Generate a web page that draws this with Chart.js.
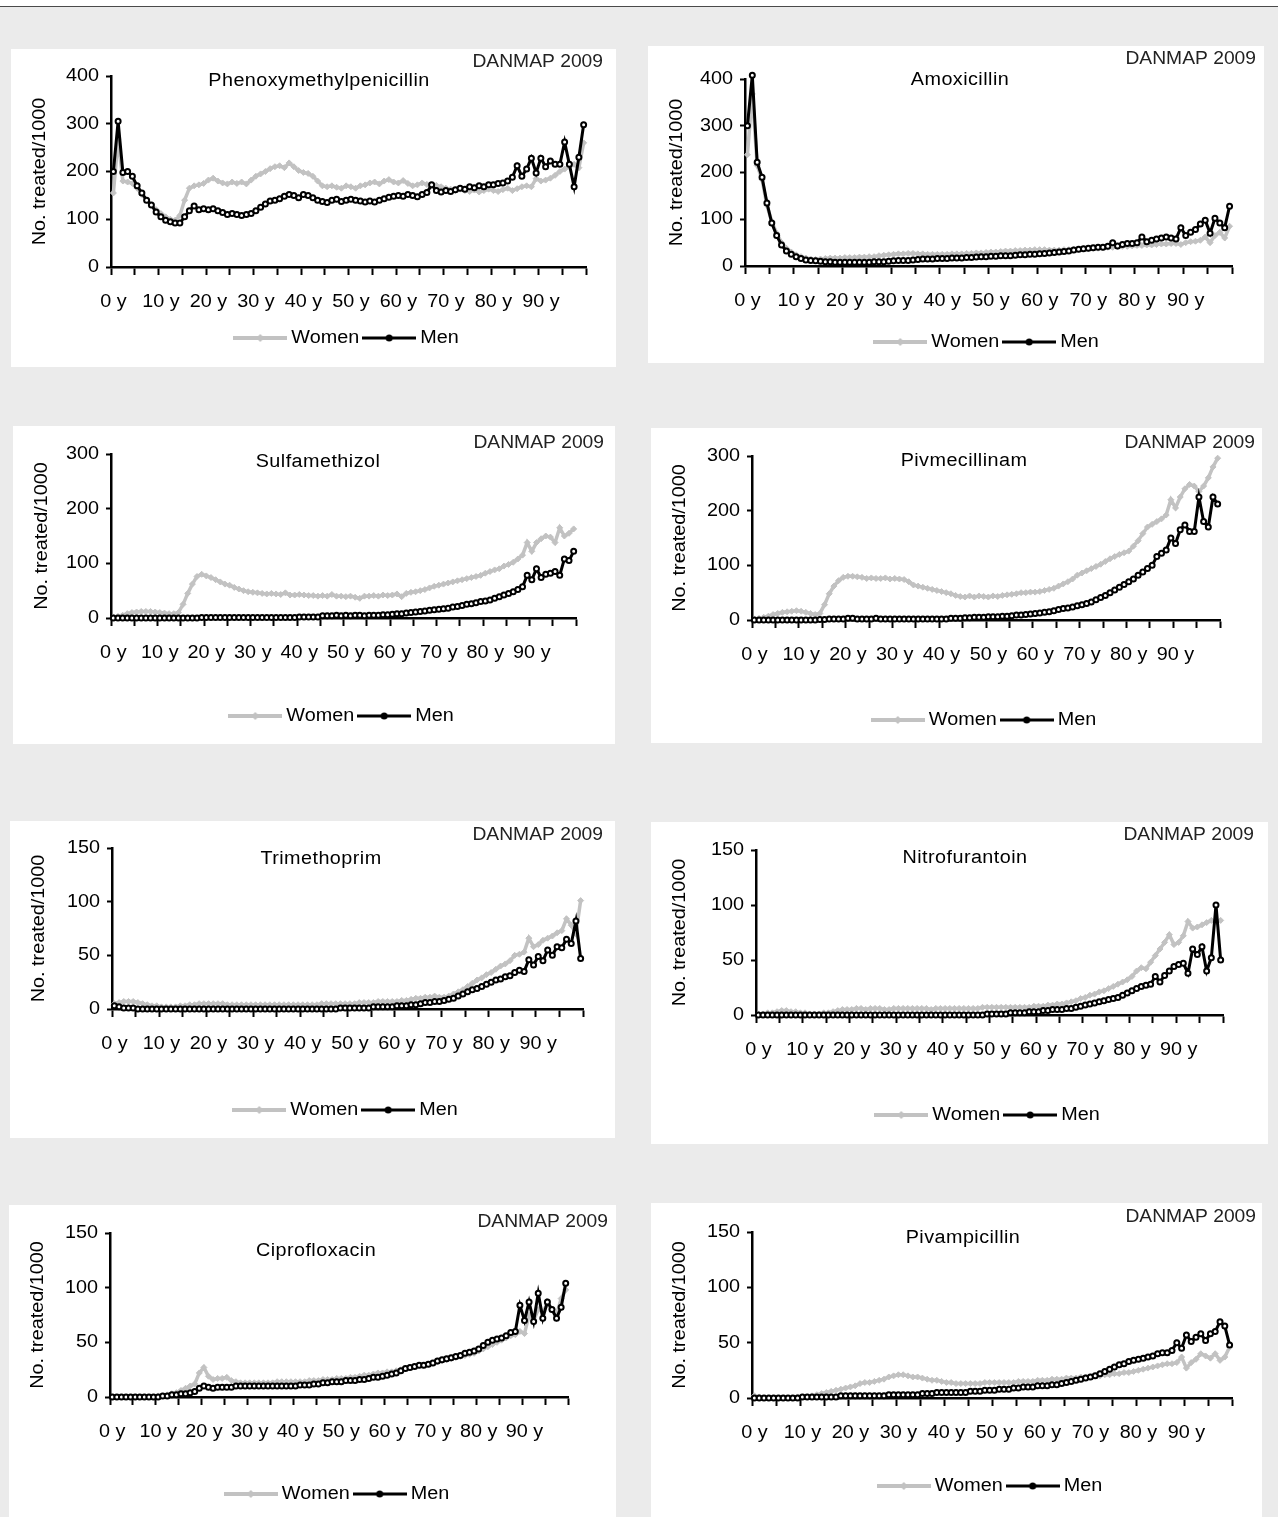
<!DOCTYPE html>
<html>
<head>
<meta charset="utf-8">
<title>DANMAP 2009 - treated per 1000 by age</title>
<script src="https://cdn.jsdelivr.net/npm/chart.js@4.4.1/dist/chart.umd.min.js"></script>
<style>
  html, body { margin: 0; padding: 0; }
  body { width: 1278px; height: 1517px; overflow: hidden; background: #ebebeb; position: relative; }
  #top { position: absolute; left: 0; top: 0; width: 1278px; height: 6px; background: #fff; border-bottom: 1px solid #4a4a4a; }
  .panel { position: absolute; background: #fff; overflow: hidden; }
  .panel canvas { display: block; }
</style>
</head>
<body>
<div id="top"></div>
<script>
// categories: age in years, one point per year
const ages = Array.from({ length: 100 }, (_, i) => i);
const tickLabels = ['0 y', '10 y', '20 y', '30 y', '40 y', '50 y', '60 y', '70 y', '80 y', '90 y'];
const seriesNames = ['Women', 'Men'];
const drugNames = ['Phenoxymethylpenicillin', 'Amoxicillin', 'Sulfamethizol', 'Pivmecillinam',
                   'Trimethoprim', 'Nitrofurantoin', 'Ciprofloxacin', 'Pivampicillin'];
const yMax = [400, 400, 300, 300, 150, 150, 150, 150];
const yStep = [100, 100, 100, 100, 50, 50, 50, 50];
const axisTitle = 'No. treated/1000';
const stamp = 'DANMAP 2009';

// No. treated/1000, ages 0..99
const phenoWomen = [155, 268, 180, 178, 175, 165, 152, 140, 130, 120,
  112, 105, 100, 98, 108, 140, 165, 170, 172, 175,
  182, 186, 180, 176, 174, 178, 175, 178, 174, 182,
  190, 195, 200, 206, 210, 212, 208, 218, 210, 202,
  198, 196, 190, 180, 170, 168, 170, 167, 165, 170,
  168, 165, 170, 172, 176, 178, 174, 180, 183, 178,
  176, 181, 175, 170, 172, 176, 173, 170, 171, 168,
  165, 163, 160, 163, 160, 158, 161, 157, 160, 163,
  160, 158, 162, 165, 160, 164, 168, 170, 168, 185,
  180, 182, 186, 192, 200, 205, 210, 215, 208, 260];
const phenoMen = [200, 305, 198, 200, 190, 170, 155, 140, 130, 115,
  105, 98, 95, 92, 92, 105, 118, 128, 120, 122,
  120, 122, 118, 114, 110, 112, 110, 108, 110, 112,
  118, 125, 132, 138, 140, 143, 148, 152, 150, 145,
  152, 150, 145, 140, 137, 135, 140, 142, 137, 140,
  142, 140, 138, 136, 138, 136, 140, 143, 146, 148,
  150, 148, 152, 150, 147, 152, 156, 172, 160, 157,
  160, 158, 162, 165, 163, 168, 166, 170, 168, 172,
  172, 175, 176, 180, 188, 212, 190, 205, 228, 197,
  228, 210, 222, 215, 215, 262, 215, 168, 230, 298];

const amoxWomen = [238, 368, 215, 185, 130, 95, 70, 50, 38, 30,
  24, 20, 17, 15, 14, 15, 16, 17, 17, 17,
  18, 18, 18, 19, 19, 20, 20, 22, 23, 24,
  25, 26, 26, 27, 27, 26, 26, 25, 25, 25,
  25, 25, 26, 26, 26, 27, 27, 28, 28, 29,
  30, 30, 31, 32, 32, 33, 33, 34, 34, 35,
  35, 35, 34, 34, 34, 35, 35, 36, 36, 37,
  37, 38, 38, 39, 40, 40, 41, 42, 42, 43,
  44, 44, 45, 45, 46, 47, 47, 48, 48, 46,
  50, 52, 53, 55, 62, 50, 65, 72, 60, 85];
const amoxMen = [300, 408, 222, 190, 135, 92, 65, 45, 32, 25,
  20, 16, 13, 12, 11, 10, 9, 9, 8, 8,
  8, 8, 8, 8, 8, 8, 9, 9, 9, 10,
  11, 12, 12, 12, 13, 14, 15, 15, 15, 16,
  16, 16, 17, 17, 17, 18, 18, 19, 20, 20,
  21, 21, 22, 22, 22, 23, 24, 24, 25, 25,
  26, 27, 28, 29, 30, 31, 32, 34, 36, 37,
  38, 39, 40, 40, 42, 50, 43, 46, 48, 48,
  50, 62, 52, 55, 58, 60, 62, 60, 58, 82,
  65, 72, 78, 90, 98, 70, 102, 92, 82, 128];

const sulfaWomen = [2, 3, 5, 8, 10, 11, 12, 12, 12, 11,
  10, 9, 8, 8, 10, 25, 45, 62, 76, 80,
  77, 74, 70, 66, 62, 60, 56, 53, 50, 48,
  47, 46, 45, 44, 45, 44, 43, 46, 42, 42,
  43, 42, 41, 41, 40, 41, 40, 43, 40, 40,
  39, 40, 38, 36, 40, 40, 41, 40, 42, 41,
  42, 44, 39, 45, 47, 48, 50, 52, 55, 58,
  60, 62, 64, 66, 68, 70, 72, 74, 76, 78,
  82, 85, 88, 90, 95, 98, 102, 108, 115, 138,
  122, 138, 145, 150, 148, 138, 165, 150, 155, 163];
const sulfaMen = [0, 0, 0, 0, 0, 0, 0, 0, 0, 0,
  0, 0, 0, 0, 0, 0, 0, 0, 0, 1,
  1, 1, 1, 1, 1, 1, 1, 1, 1, 1,
  1, 1, 1, 1, 1, 1, 1, 1, 1, 1,
  2, 2, 2, 2, 2, 4, 4, 4, 5, 4,
  5, 4, 5, 5, 4, 5, 5, 5, 6, 6,
  7, 8, 8, 9, 10, 11, 12, 13, 14, 15,
  16, 17, 18, 20, 21, 23, 25, 26, 28, 30,
  31, 33, 36, 39, 42, 45, 48, 52, 57, 78,
  70, 90, 74, 80, 82, 85, 78, 108, 105, 122];

const pivmeWomen = [2, 3, 5, 7, 10, 12, 14, 15, 16, 17,
  16, 14, 12, 10, 12, 28, 48, 62, 72, 78,
  80, 80, 79, 78, 76, 77, 76, 76, 77, 75,
  76, 75, 74, 70, 64, 62, 60, 58, 56, 54,
  52, 50, 48, 45, 43, 42, 44, 42, 44, 43,
  42, 44, 43, 45, 46, 47, 48, 50, 50, 51,
  51, 52, 54, 56, 58, 62, 66, 70, 75, 82,
  86, 90, 94, 98, 102, 107, 112, 116, 120, 123,
  126, 135, 145, 158, 170, 175, 180, 185, 192, 220,
  205, 225, 240, 248, 245, 235, 245, 260, 280, 296];
const pivmeMen = [0, 0, 0, 0, 0, 0, 0, 0, 0, 0,
  0, 0, 0, 0, 1, 1, 2, 2, 2, 2,
  3, 3, 2, 2, 2, 2, 3, 2, 2, 2,
  2, 2, 2, 2, 2, 2, 2, 2, 2, 2,
  2, 2, 3, 3, 3, 4, 4, 5, 5, 5,
  6, 6, 6, 7, 7, 8, 9, 9, 10, 11,
  12, 13, 14, 15, 17, 19, 21, 22, 24, 26,
  28, 30, 33, 37, 41, 45, 50, 55, 60, 65,
  70, 75, 82, 88, 94, 100, 116, 122, 128, 150,
  140, 165, 174, 162, 162, 225, 180, 170, 225, 212];

const trimWomen = [5, 6, 7, 7, 7, 6, 5, 4, 3, 3,
  2, 2, 2, 2, 3, 3, 4, 4, 5, 5,
  5, 5, 5, 5, 4, 4, 4, 4, 4, 4,
  4, 4, 4, 4, 4, 4, 4, 4, 4, 4,
  4, 4, 4, 4, 5, 5, 5, 5, 5, 5,
  5, 5, 6, 6, 6, 6, 7, 7, 7, 7,
  7, 8, 8, 9, 10, 10, 11, 11, 12, 11,
  11, 12, 14, 16, 18, 21, 24, 27, 29, 32,
  34, 37, 40, 42, 45, 50, 51, 53, 66, 58,
  60, 64, 66, 68, 71, 73, 84, 78, 70, 101];
const trimMen = [3, 2, 1, 1, 1, 0, 0, 0, 0, 0,
  0, 0, 0, 0, 0, 0, 0, 0, 0, 0,
  0, 0, 0, 0, 0, 0, 0, 0, 0, 0,
  0, 0, 0, 0, 0, 0, 0, 0, 0, 0,
  0, 0, 0, 0, 0, 0, 0, 0, 1, 1,
  1, 1, 1, 1, 1, 2, 2, 2, 2, 2,
  3, 3, 3, 4, 4, 5, 6, 6, 7, 7,
  8, 9, 10, 12, 14, 16, 18, 19, 21, 23,
  25, 27, 28, 30, 31, 34, 36, 35, 46, 41,
  49, 45, 55, 50, 58, 57, 65, 61, 82, 47];

const nitroWomen = [1, 1, 2, 2, 3, 4, 4, 3, 3, 2,
  2, 1, 1, 1, 2, 2, 3, 4, 5, 5,
  5, 6, 6, 5, 6, 6, 6, 5, 5, 6,
  6, 6, 6, 6, 6, 6, 6, 5, 6, 6,
  6, 6, 6, 6, 6, 6, 6, 6, 7, 7,
  7, 7, 7, 7, 7, 7, 7, 7, 7, 8,
  8, 8, 9, 9, 10, 10, 11, 12, 13, 15,
  16, 18, 19, 21, 22, 24, 26, 28, 30, 32,
  35, 40, 43, 42, 48, 54, 60, 66, 73, 64,
  66, 72, 85, 79, 80, 82, 84, 86, 85, 86];
const nitroMen = [0, 0, 0, 0, 0, 0, 0, 0, 0, 0,
  0, 0, 0, 0, 0, 0, 0, 0, 0, 0,
  0, 0, 0, 0, 0, 0, 0, 0, 0, 0,
  0, 0, 0, 0, 0, 0, 0, 0, 0, 0,
  0, 0, 0, 0, 0, 0, 0, 0, 0, 1,
  1, 1, 1, 1, 2, 2, 2, 2, 3, 3,
  3, 4, 4, 5, 5, 5, 6, 6, 7, 8,
  9, 10, 11, 12, 13, 14, 15, 16, 18, 20,
  22, 24, 26, 27, 28, 35, 30, 36, 40, 44,
  46, 47, 38, 60, 55, 62, 40, 52, 100, 50];

const ciproWomen = [0, 0, 0, 0, 0, 0, 0, 0, 0, 0,
  1, 1, 2, 3, 4, 6, 8, 10, 12, 22,
  27, 19, 16, 17, 17, 18, 15, 14, 13, 13,
  13, 13, 13, 13, 13, 13, 14, 14, 14, 14,
  14, 14, 14, 15, 15, 15, 16, 16, 16, 17,
  17, 17, 18, 18, 19, 20, 20, 21, 22, 22,
  23, 23, 24, 25, 26, 27, 28, 29, 29, 30,
  31, 32, 33, 34, 35, 36, 37, 38, 39, 40,
  42, 44, 46, 48, 50, 52, 54, 56, 57, 60,
  58, 75, 70, 80, 78, 85, 80, 75, 90, 98];
const ciproMen = [0, 0, 0, 0, 0, 0, 0, 0, 0, 0,
  0, 1, 1, 2, 2, 3, 3, 4, 5, 8,
  10, 9, 8, 9, 9, 9, 9, 10, 10, 10,
  10, 10, 10, 10, 10, 10, 10, 10, 10, 10,
  10, 11, 11, 11, 12, 12, 13, 13, 14, 14,
  14, 15, 15, 15, 16, 16, 17, 18, 18, 19,
  20, 21, 22, 24, 26, 27, 28, 29, 29, 30,
  31, 33, 34, 35, 36, 37, 38, 40, 41, 42,
  44, 47, 50, 52, 53, 54, 56, 59, 60, 84,
  70, 87, 69, 95, 72, 87, 80, 72, 82, 104];

const pivaWomen = [2, 1, 0, 0, 0, 0, 0, 0, 0, 1,
  1, 1, 2, 3, 4, 5, 6, 7, 8, 9,
  10, 11, 13, 14, 14, 15, 16, 17, 19, 20,
  21, 21, 20, 19, 19, 18, 17, 16, 16, 15,
  14, 14, 13, 13, 13, 13, 13, 13, 14, 14,
  14, 14, 14, 14, 14, 15, 15, 15, 15, 16,
  16, 16, 17, 17, 17, 18, 18, 18, 19, 19,
  19, 20, 20, 21, 21, 22, 22, 23, 23, 24,
  25, 26, 27, 28, 29, 30, 31, 31, 32, 37,
  27, 32, 35, 40, 38, 36, 40, 34, 37, 46];
const pivaMen = [0, 0, 0, 0, 0, 0, 0, 0, 0, 0,
  1, 1, 1, 1, 1, 1, 1, 1, 2, 2,
  2, 2, 2, 2, 2, 2, 2, 2, 3, 3,
  3, 3, 3, 3, 3, 4, 4, 4, 5, 5,
  5, 5, 5, 5, 5, 6, 6, 6, 7, 7,
  7, 8, 8, 8, 9, 9, 10, 10, 10, 11,
  11, 11, 12, 12, 13, 14, 15, 16, 17, 18,
  19, 20, 22, 24, 26, 28, 30, 31, 33, 34,
  35, 36, 37, 38, 40, 41, 41, 43, 50, 45,
  57, 51, 55, 58, 52, 58, 60, 69, 65, 48];

const womenSeries = [phenoWomen, amoxWomen, sulfaWomen, pivmeWomen, trimWomen, nitroWomen, ciproWomen, pivaWomen];
const menSeries = [phenoMen, amoxMen, sulfaMen, pivmeMen, trimMen, nitroMen, ciproMen, pivaMen];

// panel boxes on the page and the plot edges inside each box (px)
const panels = [
  { left: 11, top: 49, w: 605, h: 318, axisL: 100, axisR: 575, axisT: 27, axisB: 218, legendY: 289, titleX: 308, titleY: 32, stampR: 592, stampY: 13 },
  { left: 648, top: 46, w: 616, h: 317, axisL: 97, axisR: 584, axisT: 33, axisB: 220, legendY: 296, titleX: 312, titleY: 34, stampR: 608, stampY: 13 },
  { left: 13, top: 426, w: 602, h: 318, axisL: 98, axisR: 563, axisT: 28, axisB: 192, legendY: 290, titleX: 305, titleY: 36, stampR: 591, stampY: 17 },
  { left: 651, top: 428, w: 611, h: 315, axisL: 101, axisR: 569, axisT: 28, axisB: 192, legendY: 292, titleX: 313, titleY: 33, stampR: 604, stampY: 15 },
  { left: 10, top: 821, w: 605, h: 317, axisL: 102, axisR: 573, axisT: 27, axisB: 188, legendY: 289, titleX: 311, titleY: 38, stampR: 593, stampY: 14 },
  { left: 651, top: 822, w: 617, h: 322, axisL: 105, axisR: 572, axisT: 28, axisB: 193, legendY: 293, titleX: 314, titleY: 36, stampR: 603, stampY: 13 },
  { left: 9, top: 1205, w: 607, h: 318, axisL: 101, axisR: 559, axisT: 28, axisB: 192, legendY: 289, titleX: 307, titleY: 46, stampR: 599, stampY: 17 },
  { left: 651, top: 1203, w: 611, h: 318, axisL: 101, axisR: 581, axisT: 29, axisB: 195, legendY: 283, titleX: 312, titleY: 35, stampR: 605, stampY: 14 }
];

const GREY = '#c2c2c2';
const FONT = '"Liberation Sans", Arial, sans-serif';
const FONT_SIZE = 18;
const TEXT_STRETCH = 1.1;   // the original's lettering is drawn a bit wide
Chart.defaults.font.family = FONT;
Chart.defaults.color = '#000';

// widen every text run drawn on a context around its anchor point
function stretchText(ctx, sx) {
  const fill = ctx.fillText.bind(ctx);
  const measure = ctx.measureText.bind(ctx);
  ctx.fillText = (text, x, y, maxWidth) => {
    ctx.save();
    ctx.translate(x, y);
    ctx.scale(sx, 1);
    if (maxWidth === undefined) fill(text, 0, 0);
    else fill(text, 0, 0, maxWidth / sx);
    ctx.restore();
  };
  ctx.measureText = text => {
    const m = measure(text);
    return {
      width: m.width * sx,
      actualBoundingBoxAscent: m.actualBoundingBoxAscent,
      actualBoundingBoxDescent: m.actualBoundingBoxDescent,
      actualBoundingBoxLeft: m.actualBoundingBoxLeft * sx,
      actualBoundingBoxRight: m.actualBoundingBoxRight * sx
    };
  };
}

// legend swatch: line with its marker in the middle
function legendIcon(color, width, marker) {
  const c = document.createElement('canvas');
  c.width = 54; c.height = 12;
  const g = c.getContext('2d');
  g.strokeStyle = color; g.lineWidth = width;
  g.beginPath(); g.moveTo(0, 6); g.lineTo(54, 6); g.stroke();
  g.fillStyle = color;
  g.beginPath();
  if (marker === 'diamond') {
    g.moveTo(27, 2); g.lineTo(31, 6); g.lineTo(27, 10); g.lineTo(23, 6); g.closePath();
  } else {
    g.arc(27, 6, 3.5, 0, Math.PI * 2);
  }
  g.fill();
  return c;
}
const legendIcons = [legendIcon(GREY, 4, 'diamond'), legendIcon('#000', 3, 'circle')];

// drug name inside the plot and the DANMAP stamp top right
const panelText = {
  id: 'panelText',
  afterDraw(chart, args, opts) {
    const ctx = chart.ctx;
    ctx.save();
    ctx.textBaseline = 'middle';
    ctx.fillStyle = '#000';
    ctx.font = '18px ' + FONT;
    ctx.letterSpacing = '0.4px';
    ctx.textAlign = 'center';
    ctx.fillText(opts.title, opts.titleX, opts.titleY);
    ctx.font = '17.5px ' + FONT;
    ctx.letterSpacing = '0px';
    ctx.textAlign = 'right';
    ctx.fillStyle = '#222';
    ctx.fillText(opts.stamp, opts.stampR, opts.stampY);
    ctx.restore();
  }
};

panels.forEach((p, k) => {
  const box = document.createElement('div');
  box.className = 'panel';
  box.style.left = p.left + 'px';
  box.style.top = p.top + 'px';
  box.style.width = p.w + 'px';
  box.style.height = p.h + 'px';
  const canvas = document.createElement('canvas');
  canvas.width = p.w; canvas.height = p.h;
  canvas.style.width = p.w + 'px'; canvas.style.height = p.h + 'px';
  box.appendChild(canvas);
  document.body.appendChild(box);
  stretchText(canvas.getContext('2d'), TEXT_STRETCH);

  // legend box = font size + padding + 10; its text sits at top + padding + size/2
  const legendTop = p.legendY - 8 - FONT_SIZE / 2;

  new Chart(canvas, {
    type: 'line',
    data: {
      labels: ages,
      datasets: [
        {
          label: seriesNames[0], data: womenSeries[k], order: 2, clip: false,
          borderColor: GREY, backgroundColor: GREY, borderWidth: 3.5,
          pointStyle: 'rectRot', pointRadius: 3, pointBorderWidth: 1,
          pointBackgroundColor: GREY, pointBorderColor: GREY
        },
        {
          label: seriesNames[1], data: menSeries[k], order: 1, clip: false,
          borderColor: '#000', backgroundColor: '#000', borderWidth: 3,
          pointStyle: 'circle', pointRadius: 2.5, pointBorderWidth: 2,
          pointBackgroundColor: '#fff', pointBorderColor: '#000'
        }
      ]
    },
    options: {
      responsive: false,
      animation: false,
      events: [],
      layout: { padding: { left: 18, right: p.w - p.axisR, top: p.axisT, bottom: p.h - legendTop - (FONT_SIZE + 18) } },
      plugins: {
        tooltip: { enabled: false },
        legend: {
          position: 'bottom',
          fullSize: false,
          labels: {
            usePointStyle: true,
            pointStyleWidth: 44,
            padding: 8,
            color: '#000',
            font: { size: FONT_SIZE },
            sort: (a, b) => a.datasetIndex - b.datasetIndex,
            generateLabels: chart => Chart.defaults.plugins.legend.labels.generateLabels(chart)
              .map(item => Object.assign(item, { pointStyle: legendIcons[item.datasetIndex] }))
          }
        },
        panelText: {
          title: drugNames[k], titleX: p.titleX, titleY: p.titleY,
          stamp: stamp, stampR: p.stampR, stampY: p.stampY
        }
      },
      scales: {
        x: {
          type: 'category',
          offset: true,
          grid: {
            offset: true,
            drawOnChartArea: false,
            tickLength: 8,
            tickWidth: 2,
            tickColor: c => (c.index === undefined || c.index % 5 === 0) ? '#000' : 'rgba(0,0,0,0)'
          },
          border: { color: '#000', width: 2.5 },
          ticks: {
            autoSkip: false, maxRotation: 0, minRotation: 0, padding: 16.5,
            color: '#000', font: { size: FONT_SIZE },
            callback: (v, i) => i % 10 === 0 ? tickLabels[i / 10] : ''
          },
          afterFit: s => { s.height = legendTop - p.axisB; }
        },
        y: {
          min: 0,
          max: yMax[k],
          ticks: { stepSize: yStep[k], padding: 7, color: '#000', font: { size: FONT_SIZE } },
          grid: { drawOnChartArea: false, tickLength: 5, tickWidth: 2, tickColor: '#000' },
          border: { color: '#000', width: 2.5 },
          title: { display: true, text: axisTitle, color: '#000', font: { size: FONT_SIZE }, padding: { top: 0, bottom: 0 } },
          afterFit: s => { s.width = p.axisL - 18; }
        }
      }
    },
    plugins: [panelText]
  });
});
</script>
</body>
</html>
